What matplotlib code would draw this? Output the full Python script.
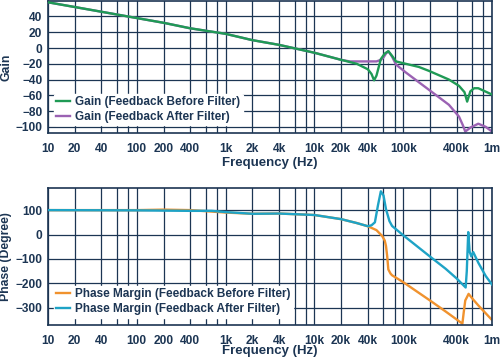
import numpy as np
import matplotlib.pyplot as plt
from matplotlib.ticker import FixedLocator, NullLocator

# colours
navy = '#1c3553'
green = '#1f9a55'
purple = '#9b62b3'
orange = '#f0922e'
cyan = '#1ea3c6'

# gain data (Hz, dB)
gain_before_f = [10, 20, 40, 100, 200, 400, 1e3, 2e3, 4e3, 10e3, 20e3, 30e3, 40e3, 44e3, 47e3,
                 50e3, 56e3, 62e3, 68e3, 75e3, 83e3, 98e3, 150e3, 195e3, 327e3, 425e3, 490e3,
                 525e3, 570e3, 630e3, 700e3, 800e3, 1e6]
gain_before = [58, 52, 46, 38, 32, 25, 18, 10, 4, -6, -15, -20, -27, -33, -41,
               -35, -14, -7, -4, -10, -17, -19, -24, -29, -40, -48, -56,
               -68, -55, -51, -51, -54, -59]

gain_after_f = [10, 20, 40, 100, 200, 400, 1e3, 2e3, 4e3, 10e3, 20e3, 25e3, 35e3, 50e3, 56e3,
                60e3, 64e3, 68e3, 75e3, 83e3, 107e3, 195e3, 327e3, 425e3, 470e3, 500e3, 570e3,
                700e3, 850e3, 1e6]
gain_after = [58, 52, 46, 38, 32, 25, 18, 10, 4, -6, -15, -17, -17, -17, -15,
              -12, -7, -4, -11, -21, -31, -53, -72, -87, -98, -106, -101,
              -96, -100, -106]

# phase data (Hz, degree)
phase_before_f = [10, 100, 200, 400, 1e3, 2e3, 4e3, 10e3, 20e3, 30e3, 40e3, 50e3, 58e3, 62e3,
                  64e3, 66e3, 68e3, 72e3, 75e3, 100e3, 200e3, 300e3, 464e3, 480e3, 500e3,
                  520e3, 545e3, 600e3, 700e3, 1e6]
phase_before = [100, 100, 102, 100, 90, 85, 86, 80, 63, 47, 34, 18, -6, -25,
                -47, -88, -143, -160, -167, -195, -270, -315, -365, -320, -270,
                -258, -243, -262, -290, -350]

phase_after_f = [10, 100, 400, 700, 1e3, 2e3, 4e3, 10e3, 20e3, 30e3, 40e3, 44e3, 48e3, 52e3,
                 56e3, 60e3, 64e3, 70e3, 75e3, 100e3, 200e3, 300e3, 400e3, 505e3, 520e3,
                 540e3, 560e3, 585e3, 615e3, 700e3, 850e3, 1e6]
phase_after = [100, 99, 97, 97, 92, 85, 86, 80, 63, 47, 34, 38, 50, 120,
               177, 160, 104, 55, 35, -3, -90, -140, -180, -217, -150,
               10, -70, -90, -72, -115, -170, -205]

xticks = [10, 20, 40, 100, 200, 400, 1e3, 2e3, 4e3, 10e3, 20e3, 40e3, 100e3, 400e3, 1e6]
xticklabels = ['10', '20', '40', '100', '200', '400', '1k', '2k', '4k', '10k', '20k', '40k',
               '100k', '400k', '1m']
xgrid = [m * 10 ** d for d in range(1, 6) for m in (1, 2, 4, 6, 8)] + [1e6]

plt.rcParams['font.family'] = ['Liberation Sans', 'DejaVu Sans']
plt.rcParams['font.weight'] = 'bold'

fig = plt.figure(figsize=(5, 3.57), dpi=100)
ax1 = fig.add_axes([0.096, 0.627, 0.888, 0.371])
ax2 = fig.add_axes([0.096, 0.09, 0.888, 0.383])


def style(ax, yticks, xlab_y):
    ax.set_xscale('log')
    ax.set_xlim(10, 1e6)
    ax.xaxis.set_major_locator(FixedLocator(xticks))
    ax.set_xticklabels(xticklabels)
    ax.xaxis.set_minor_locator(NullLocator())
    ax.set_yticks(yticks)
    for x in xgrid:
        ax.axvline(x, color=navy, lw=0.9, zorder=0)
    for y in yticks:
        ax.axhline(y, color=navy, lw=0.9, zorder=0)
    for s in ax.spines.values():
        s.set_color(navy)
        s.set_linewidth(1.2)
    ax.tick_params(length=0, labelsize=8.6, colors=navy)
    ax.tick_params(axis='x', pad=7)
    ax.tick_params(axis='y', pad=4)
    for lab in ax.get_xticklabels() + ax.get_yticklabels():
        lab.set_fontweight('bold')
    ax.set_xlabel('Frequency (Hz)', color=navy, fontsize=9.5, fontweight='bold')
    ax.xaxis.set_label_coords(0.5, xlab_y)


ax1.plot(gain_before_f, gain_before, color=green, lw=1.7, label='Gain (Feedback Before Filter)', zorder=3)
ax1.plot(gain_after_f, gain_after, color=purple, lw=1.7, label='Gain (Feedback After Filter)', zorder=2)
ax1.set_ylim(-108, 60)
style(ax1, [40, 20, 0, -20, -40, -60, -80, -100], -0.18)
ax1.set_yticklabels(['40', '20', '0', '\u221220', '\u221240', '\u221260', '\u221280', '\u2212100'])
ax1.set_ylabel('Gain', color=navy, fontsize=8.8, fontweight='bold')
ax1.yaxis.set_label_coords(-0.08, 0.5)
leg1 = ax1.legend(loc='lower left', bbox_to_anchor=(0.0, 0.015), frameon=True, fontsize=8.5,
                  handlelength=1.2, borderpad=0.2, labelspacing=0.25, handletextpad=0.4)
leg1.get_frame().set_edgecolor('white')
leg1.get_frame().set_alpha(1)
for t in leg1.get_texts():
    t.set_color(navy)

ax2.plot(phase_before_f, phase_before, color=orange, lw=1.7, label='Phase Margin (Feedback Before Filter)', zorder=2)
ax2.plot(phase_after_f, phase_after, color=cyan, lw=1.7, label='Phase Margin (Feedback After Filter)', zorder=3)
ax2.set_ylim(-370, 190)
style(ax2, [100, 0, -100, -200, -300], -0.15)
ax2.set_yticklabels(['100', '0', '\u2212100', '\u2212200', '\u2212300'])
ax2.set_ylabel('Phase (Degree)', color=navy, fontsize=8.8, fontweight='bold')
ax2.yaxis.set_label_coords(-0.08, 0.5)
leg2 = ax2.legend(loc='lower left', bbox_to_anchor=(0.0, 0.01), frameon=True, fontsize=8.5,
                  handlelength=1.2, borderpad=0.2, labelspacing=0.25, handletextpad=0.4)
leg2.get_frame().set_edgecolor('white')
leg2.get_frame().set_alpha(1)
for t in leg2.get_texts():
    t.set_color(navy)

fig.savefig('out.png', dpi=100)
